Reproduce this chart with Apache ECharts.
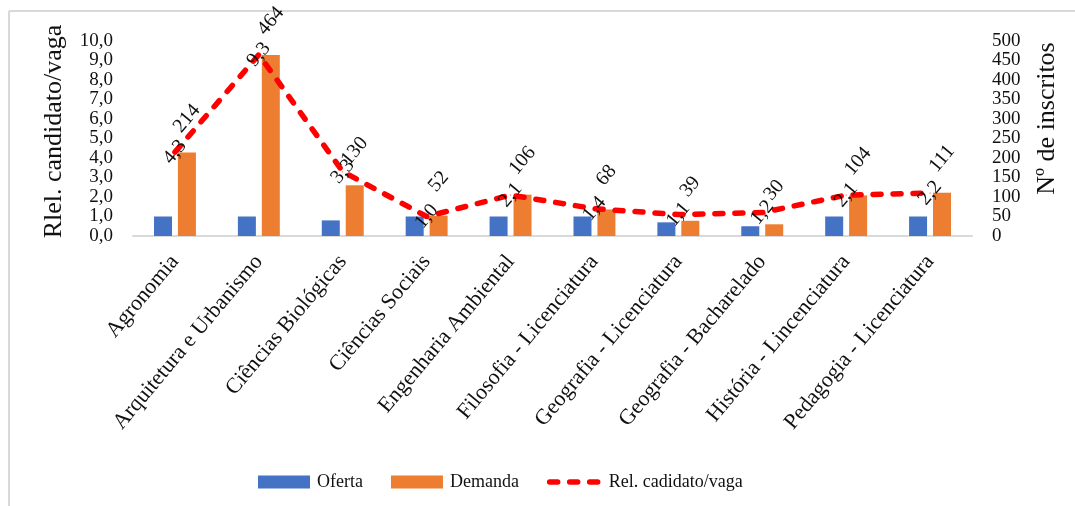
<!DOCTYPE html>
<html>
<head>
<meta charset="utf-8">
<script src="https://cdn.jsdelivr.net/npm/echarts@6/dist/echarts.min.js"></script>
<style>
html,body{margin:0;padding:0;background:#fff;}
#chart{width:1075px;height:506px;}
</style>
</head>
<body>
<div id="chart"></div>
<script>
var categories = ['Agronomia','Arquitetura e Urbanismo','Ciências Biológicas','Ciências Sociais','Engenharia Ambiental','Filosofia - Licenciatura','Geografia - Licenciatura','Geografia - Bacharelado','História - Lincenciatura','Pedagogia - Licenciatura'];
var oferta = [50, 50, 40, 50, 50, 50, 35, 25, 50, 50];
var demanda = [214, 464, 130, 52, 106, 68, 39, 30, 104, 111];
var relacao = [4.3, 9.3, 3.3, 1.0, 2.1, 1.4, 1.1, 1.2, 2.1, 2.2];
var leftTicks = [0, 10, 1];
var rightTicks = [0, 500, 50];

var FONT = 'Liberation Serif';
var TXT = '#111';
function fmt1(v){ return Number(v).toFixed(1).replace('.', ','); }

var chart = echarts.init(document.getElementById('chart'));
chart.setOption({
  animation: false,
  backgroundColor: '#fff',
  textStyle: { fontFamily: FONT, color: TXT },
  graphic: [
    { type: 'line', shape: { x1: 9, y1: 11, x2: 9, y2: 506 }, style: { stroke: '#d9d9d9', lineWidth: 2 } },
    { type: 'line', shape: { x1: 9, y1: 11, x2: 1075, y2: 11 }, style: { stroke: '#d9d9d9', lineWidth: 2 } }
  ],
  legend: {
    left: 253, top: 468,
    itemWidth: 52, itemHeight: 13, itemGap: 28,
    textStyle: { fontFamily: FONT, fontSize: 18, color: TXT, padding: [0,0,0,2] },
    lineStyle: { width: 5.5 },
    data: [
      { name: 'Oferta', icon: 'rect' },
      { name: 'Demanda', icon: 'rect' },
      { name: 'Rel. cadidato/vaga', itemStyle: { opacity: 0, color: 'rgba(0,0,0,0)', borderWidth: 0 }, lineStyle: { width: 5.5 } }
    ]
  },
  grid: { left: 133, right: 103, top: 41, bottom: 270, containLabel: false },
  xAxis: {
    type: 'category',
    data: categories,
    axisLine: { lineStyle: { color: '#d9d9d9', width: 2 } },
    axisTick: { show: false },
    axisLabel: { interval: 0, rotate: 50, margin: 22, fontFamily: FONT, fontSize: 22, color: TXT }
  },
  yAxis: [
    {
      type: 'value', min: leftTicks[0], max: leftTicks[1], interval: leftTicks[2],
      name: 'Rlel. candidato/vaga', nameLocation: 'middle', nameRotate: 90, nameGap: 66,
      nameTextStyle: { fontFamily: FONT, fontSize: 26, color: TXT, padding: [0,0,0,14] },
      axisLine: { show: false }, axisTick: { show: false }, splitLine: { show: false },
      axisLabel: { margin: 20, fontFamily: FONT, fontSize: 19, color: TXT, formatter: fmt1 }
    },
    {
      type: 'value', min: rightTicks[0], max: rightTicks[1], interval: rightTicks[2],
      name: 'Nº de inscritos', nameLocation: 'middle', nameRotate: 90, nameGap: 62,
      nameTextStyle: { fontFamily: FONT, fontSize: 26, color: TXT, padding: [0,0,0,40] },
      axisLine: { show: false }, axisTick: { show: false }, splitLine: { show: false },
      axisLabel: { margin: 20, fontFamily: FONT, fontSize: 19, color: TXT }
    }
  ],
  series: [
    {
      name: 'Oferta', type: 'bar', yAxisIndex: 1, data: oferta,
      barWidth: 18, barGap: '33%',
      itemStyle: { color: '#4472C4' }
    },
    {
      name: 'Demanda', type: 'bar', yAxisIndex: 1, data: demanda,
      barWidth: 18,
      itemStyle: { color: '#ED7D31' },
      label: {
        show: true, position: 'top', distance: 34, rotate: 50,
        align: 'center', verticalAlign: 'middle',
        fontFamily: FONT, fontSize: 20, color: TXT
      }
    },
    {
      name: 'Rel. cadidato/vaga', type: 'line', yAxisIndex: 0, data: relacao,
      symbol: 'circle', symbolSize: 1, showSymbol: true, z: 5,
      lineStyle: { color: '#FF0000', width: 5.5, type: [8, 12], cap: 'round' },
      itemStyle: { color: '#FF0000' },
      label: {
        show: true, position: 'inside', rotate: 50,
        align: 'center', verticalAlign: 'middle',
        fontFamily: FONT, fontSize: 20, color: TXT,
        formatter: function(p){ return fmt1(p.value); }
      }
    }
  ]
});
</script>
</body>
</html>
